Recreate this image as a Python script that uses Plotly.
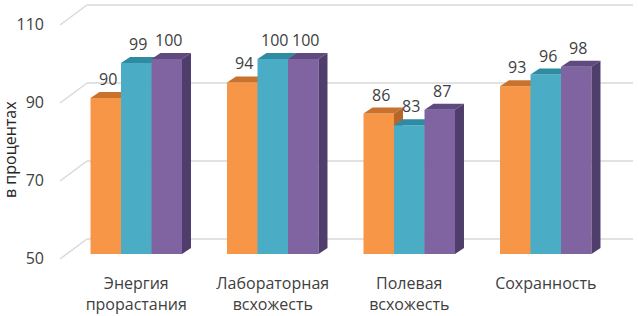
import plotly.graph_objects as go

categories = ["Энергия<br>прорастания", "Лабораторная<br>всхожесть", "Полевая<br>всхожесть", "Сохранность"]
series_a = [90, 94, 86, 93]
series_b = [99, 100, 83, 96]
series_c = [100, 100, 87, 98]
y_ticks = [50, 70, 90, 110]
y_title = "в процентах"

series = [series_a, series_b, series_c]
front = ["#F79646", "#4BACC6", "#8064A2"]
top = ["#C8722D", "#2F8BA2", "#5F4A80"]
side = ["#B5672A", "#2A7A90", "#4F3D6B"]

W, H = 639, 316
ml, mr, mt, mb = 50, 0, 0, 54
pw, ph = W - ml - mr, H - mt - mb
# pixel scale
px_per_cat = 136.5
px_per_unit = 3.9
x0_px = 68 - ml  # left edge of category -0.5 in plot px
floor_px = 254 - mt  # y pixel of value 50
xr = [-0.5 - x0_px / px_per_cat, -0.5 + (pw - x0_px) / px_per_cat]
yr = [50 - (ph - floor_px) / px_per_unit, 50 + floor_px / px_per_unit]

def dxu(p):
    return p / px_per_cat

def dyu(p):
    return p / px_per_unit

base = y_ticks[0]
bw = 0.2234
offs = [-1.5 * bw, -0.5 * bw, 0.5 * bw]
ddx, ddy = dxu(9), dyu(6)

fig = go.Figure()
xs = list(range(len(categories)))
for k, vals in enumerate(series):
    fig.add_trace(go.Bar(x=xs, y=[v - base for v in vals], base=base, width=bw, offset=offs[k],
                         marker=dict(color=front[k], line=dict(width=0)), zorder=k,
                         hoverinfo="skip", showlegend=False))
    for i, v in enumerate(vals):
        xl = i + offs[k]
        xrr = xl + bw
        # top face
        fig.add_trace(go.Scatter(x=[xl, xrr, xrr + ddx, xl + ddx, xl], y=[v, v, v + ddy, v + ddy, v],
                                 fill="toself", fillcolor=top[k], mode="lines", line=dict(width=0),
                                 zorder=k, hoverinfo="skip", showlegend=False))
        # side face
        fig.add_trace(go.Scatter(x=[xrr, xrr, xrr + ddx, xrr + ddx, xrr], y=[base, v, v + ddy, base + ddy, base],
                                 fill="toself", fillcolor=side[k], mode="lines", line=dict(width=0),
                                 zorder=k, hoverinfo="skip", showlegend=False))
        fig.add_annotation(x=xl + bw / 2, y=v, text=str(v), showarrow=False, xshift=2, yshift=19,
                           yanchor="middle", font=dict(size=16, color="#404040", family="Open Sans"))

# back wall gridlines and floor diagonals
gx_front = xr[0] + dxu(10)
gx_back = xr[0] + dxu(37)
gx_end = xs[-1] + 0.5 + dxu(19)
for t in y_ticks:
    fig.add_shape(type="line", layer="below", xref="x", yref="y", x0=gx_back, x1=gx_end,
                  y0=t + dyu(15), y1=t + dyu(15), line=dict(color="#D9D9D9", width=1.5))
    fig.add_shape(type="line", layer="below", xref="x", yref="y", x0=gx_front, x1=gx_back,
                  y0=t - dyu(5), y1=t + dyu(15), line=dict(color="#D9D9D9", width=1.5))

fig.add_annotation(xref="paper", yref="paper", x=(10 - ml) / pw, y=1 - (150 - mt) / ph,
                   text=y_title, textangle=-90, showarrow=False, xanchor="center", yanchor="middle",
                   font=dict(size=16, color="#262626", family="Open Sans"))

fig.update_layout(
    width=W, height=H, margin=dict(l=ml, r=mr, t=mt, b=mb, autoexpand=False),
    plot_bgcolor="white", paper_bgcolor="white", barmode="overlay", showlegend=False,
    xaxis=dict(range=xr, tickvals=xs, ticktext=categories, showgrid=False, zeroline=False,
               showline=False, ticks="", ticklabelstandoff=10, automargin=False,
               tickfont=dict(size=16, color="#404040", family="Open Sans"), fixedrange=True),
    yaxis=dict(range=yr, tickvals=y_ticks, showgrid=False, zeroline=False, showline=False,
               ticks="", ticklabelshift=4, ticklabelstandoff=5, automargin=False,
               tickfont=dict(size=16, color="#404040", family="Open Sans"), fixedrange=True),
)
fig.write_html("out.html", config={"displayModeBar": False, "staticPlot": True},
               post_script="document.body.style.margin='0';document.body.style.overflow='hidden';")
